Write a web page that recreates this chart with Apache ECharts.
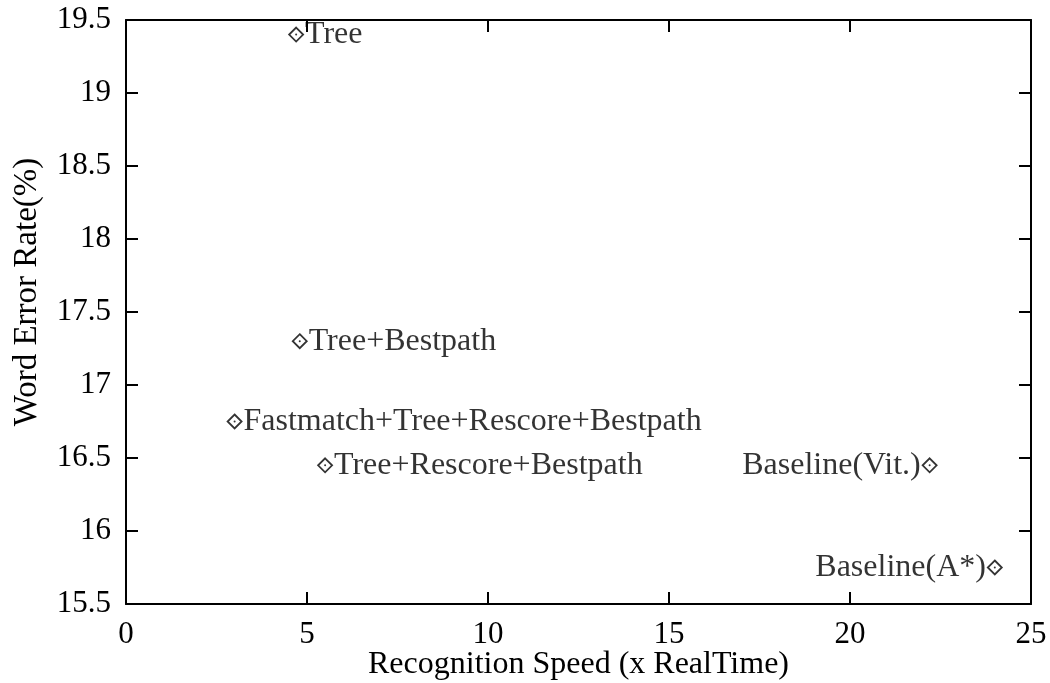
<!DOCTYPE html>
<html>
<head>
<meta charset="utf-8">
<script src="https://cdn.jsdelivr.net/npm/echarts@6/dist/echarts.min.js"></script>
<style>
html, body { margin: 0; padding: 0; background: #fff; }
#chart { width: 1050px; height: 683px; }
</style>
</head>
<body>
<div id="chart"></div>
<script>
// 数据点
var pointNames = ['Tree', 'Tree+Bestpath', 'Fastmatch+Tree+Rescore+Bestpath', 'Tree+Rescore+Bestpath', 'Baseline(Vit.)', 'Baseline(A*)'];
var speedValues = [4.7, 4.8, 3.0, 5.5, 22.2, 24.0];
var werValues = [19.4, 17.3, 16.75, 16.45, 16.45, 15.75];
var labelSides = ['right', 'right', 'right', 'right', 'left', 'left'];

var FONT = 'Liberation Serif';

var points = [];
var dots = [];
for (var i = 0; i < pointNames.length; i++) {
    points.push({
        name: pointNames[i],
        value: [speedValues[i], werValues[i]],
        label: { position: labelSides[i] }
    });
    dots.push([speedValues[i], werValues[i]]);
}

var myChart = echarts.init(document.getElementById('chart'));
// 每个轴单独生成一份样式对象，共用同一个对象会导致刻度画错位置
function axisLine() {
    return { show: true, onZero: false, lineStyle: { color: '#000', width: 2 } };
}
function axisTick() {
    return { show: true, inside: true, length: 12, lineStyle: { color: '#000', width: 2 } };
}

var option = {
    animation: false,
    backgroundColor: '#fff',
    grid: { left: 126, right: 19, top: 20, bottom: 79, outerBoundsMode: 'none' },
    xAxis: [{
        type: 'value', min: 0, max: 25, interval: 5,
        name: 'Recognition Speed (x RealTime)',
        nameLocation: 'middle', nameGap: 45, nameMoveOverlap: false,
        nameTextStyle: { fontFamily: FONT, fontSize: 32, color: '#000' },
        axisLine: axisLine(), axisTick: axisTick(),
        axisLabel: { fontFamily: FONT, fontSize: 31, color: '#000', margin: 15 },
        splitLine: { show: false }
    }, {
        type: 'value', min: 0, max: 25, interval: 5, position: 'top',
        axisLine: axisLine(), axisTick: axisTick(),
        axisLabel: { show: false }, splitLine: { show: false }
    }],
    yAxis: [{
        type: 'value', min: 15.5, max: 19.5, interval: 0.5, position: 'left',
        name: 'Word Error Rate(%)',
        nameLocation: 'middle', nameGap: 82, nameMoveOverlap: false,
        nameTextStyle: { fontFamily: FONT, fontSize: 33, color: '#000', padding: [0, 0, 0, 40] },
        axisLine: axisLine(), axisTick: axisTick(),
        axisLabel: { fontFamily: FONT, fontSize: 31, color: '#000', margin: 15 },
        splitLine: { show: false }
    }, {
        type: 'value', min: 15.5, max: 19.5, interval: 0.5, position: 'right',
        axisLine: axisLine(), axisTick: axisTick(),
        axisLabel: { show: false }, splitLine: { show: false }
    }],
    series: [{
        name: 'points',
        type: 'scatter',
        symbol: 'diamond',
        symbolSize: 14,
        itemStyle: { color: '#fff', borderColor: '#000', borderWidth: 1.8 },
        label: {
            show: true,
            formatter: '{b}',
            distance: 1,
            fontFamily: FONT,
            fontSize: 32,
            color: '#000'
        },
        data: points,
        z: 3
    }, {
        name: 'dots',
        type: 'scatter',
        symbol: 'circle',
        symbolSize: 2,
        itemStyle: { color: '#000' },
        data: dots,
        z: 4
    }]
};

myChart.clear();
myChart.setOption(option);
</script>
</body>
</html>
